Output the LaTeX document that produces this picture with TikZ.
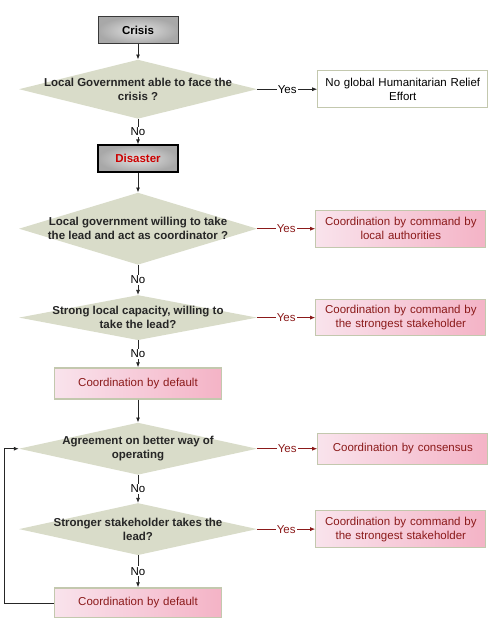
\documentclass[tikz,border=0pt]{standalone}
\usepackage{fontspec}
\setmainfont{Liberation Sans}
\usetikzlibrary{positioning,arrows.meta,shapes.geometric}

\definecolor{sage}{HTML}{D9DCC9}
\definecolor{boxline}{HTML}{C3C8AE}
\definecolor{winered}{HTML}{8B1A1A}
\definecolor{pinklight}{HTML}{F9E3EC}
\definecolor{pinkdark}{HTML}{F4B3C6}

\begin{document}
\begin{tikzpicture}[
  x=1pt, y=1pt,
  node distance=20pt and 58pt,
  font=\fontsize{11.5}{14}\selectfont,
  decision/.style={diamond, fill=sage, inner sep=0pt,
    minimum width=238pt, minimum height=#1},
  decision/.default=52pt,
  qtext/.style={align=center, font=\fontsize{11.5}{14}\selectfont\bfseries,
    text=black!85},
  event/.style={rectangle, draw=gray!45!black, line width=1pt,
    inner color=gray!22, outer color=gray!68,
    minimum width=80pt, minimum height=27pt,
    font=\fontsize{11.5}{14}\selectfont\bfseries},
  outcome/.style={rectangle, draw=boxline, line width=1.2pt,
    left color=pinklight, right color=pinkdark, text=winered,
    align=center, text width=162pt, minimum width=170pt, minimum height=37pt},
  arrow/.style={-{Latex[length=5pt,width=4pt]}, draw=black!85, thick},
  yesarrow/.style={arrow, draw=winered},
  tag/.style={fill=white, inner sep=1pt}
]
\useasboundingbox (0,0) rectangle (496,-618);

% colonne principale
\node[event] (crisis) at (138,-30.5) {Crisis};
\node[decision=59pt, below=15pt of crisis, label={[qtext]center:{Local Government able to face the\\crisis ?}}] (q1) {};
\node[event, line width=1.6pt, draw=black, text=red!80!black, below=25.5pt of q1] (disaster) {Disaster};
\node[decision=72pt, below=19.5pt of disaster, label={[qtext]center:{Local government willing to take\\the lead and act as coordinator ?}}] (q2) {};
\node[decision=45pt, below=30pt of q2, label={[qtext]center:{Strong local capacity, willing to\\take the lead?}}] (q3) {};
\node[outcome, text width=158pt, minimum width=167pt, minimum height=31pt, below=27pt of q3] (default1) {Coordination by default};
\node[decision, below=23pt of default1, label={[qtext]center:{Agreement on better way of\\operating}}] (q4) {};
\node[decision, below=28pt of q4, label={[qtext]center:{Stronger stakeholder takes the\\lead?}}] (q5) {};
\node[outcome, text width=158pt, minimum width=167pt, minimum height=30pt, below=32pt of q5] (default2) {Coordination by default};

% colonne de droite
\node[outcome, left color=white, right color=white, fill=white, text=black, right=60pt of q1] (r1) {No global Humanitarian Relief\\Effort};
\node[outcome, right=58pt of q2] (r2) {Coordination by command by\\local authorities};
\node[outcome, minimum height=36pt, right=58pt of q3] (r3) {Coordination by command by\\the strongest stakeholder};
\node[outcome, minimum height=31pt, right=60pt of q4] (r4) {Coordination by consensus};
\node[outcome, right=58pt of q5] (r5) {Coordination by command by\\the strongest stakeholder};

% fleches
\draw[arrow] (crisis) -- (q1);
\draw[arrow] (q1) -- node[tag] {No} (disaster);
\draw[arrow] (disaster) -- (q2);
\draw[arrow] (q2) -- node[tag] {No} (q3);
\draw[arrow] (q3) -- node[tag] {No} (default1);
\draw[arrow] (default1) -- (q4);
\draw[arrow] (q4) -- node[tag] {No} (q5);
\draw[arrow] (q5) -- node[tag] {No} (default2);
\draw[arrow] (default2.west) -- ++(-50pt,0) |- (q4.west);

\draw[arrow] (q1) -- node[tag] {Yes} (r1);
\draw[yesarrow] (q2) -- node[tag, text=winered] {Yes} (r2);
\draw[yesarrow] (q3) -- node[tag, text=winered] {Yes} (r3);
\draw[yesarrow] (q4) -- node[tag, text=winered] {Yes} (r4);
\draw[yesarrow] (q5) -- node[tag, text=winered] {Yes} (r5);
\end{tikzpicture}
\end{document}
